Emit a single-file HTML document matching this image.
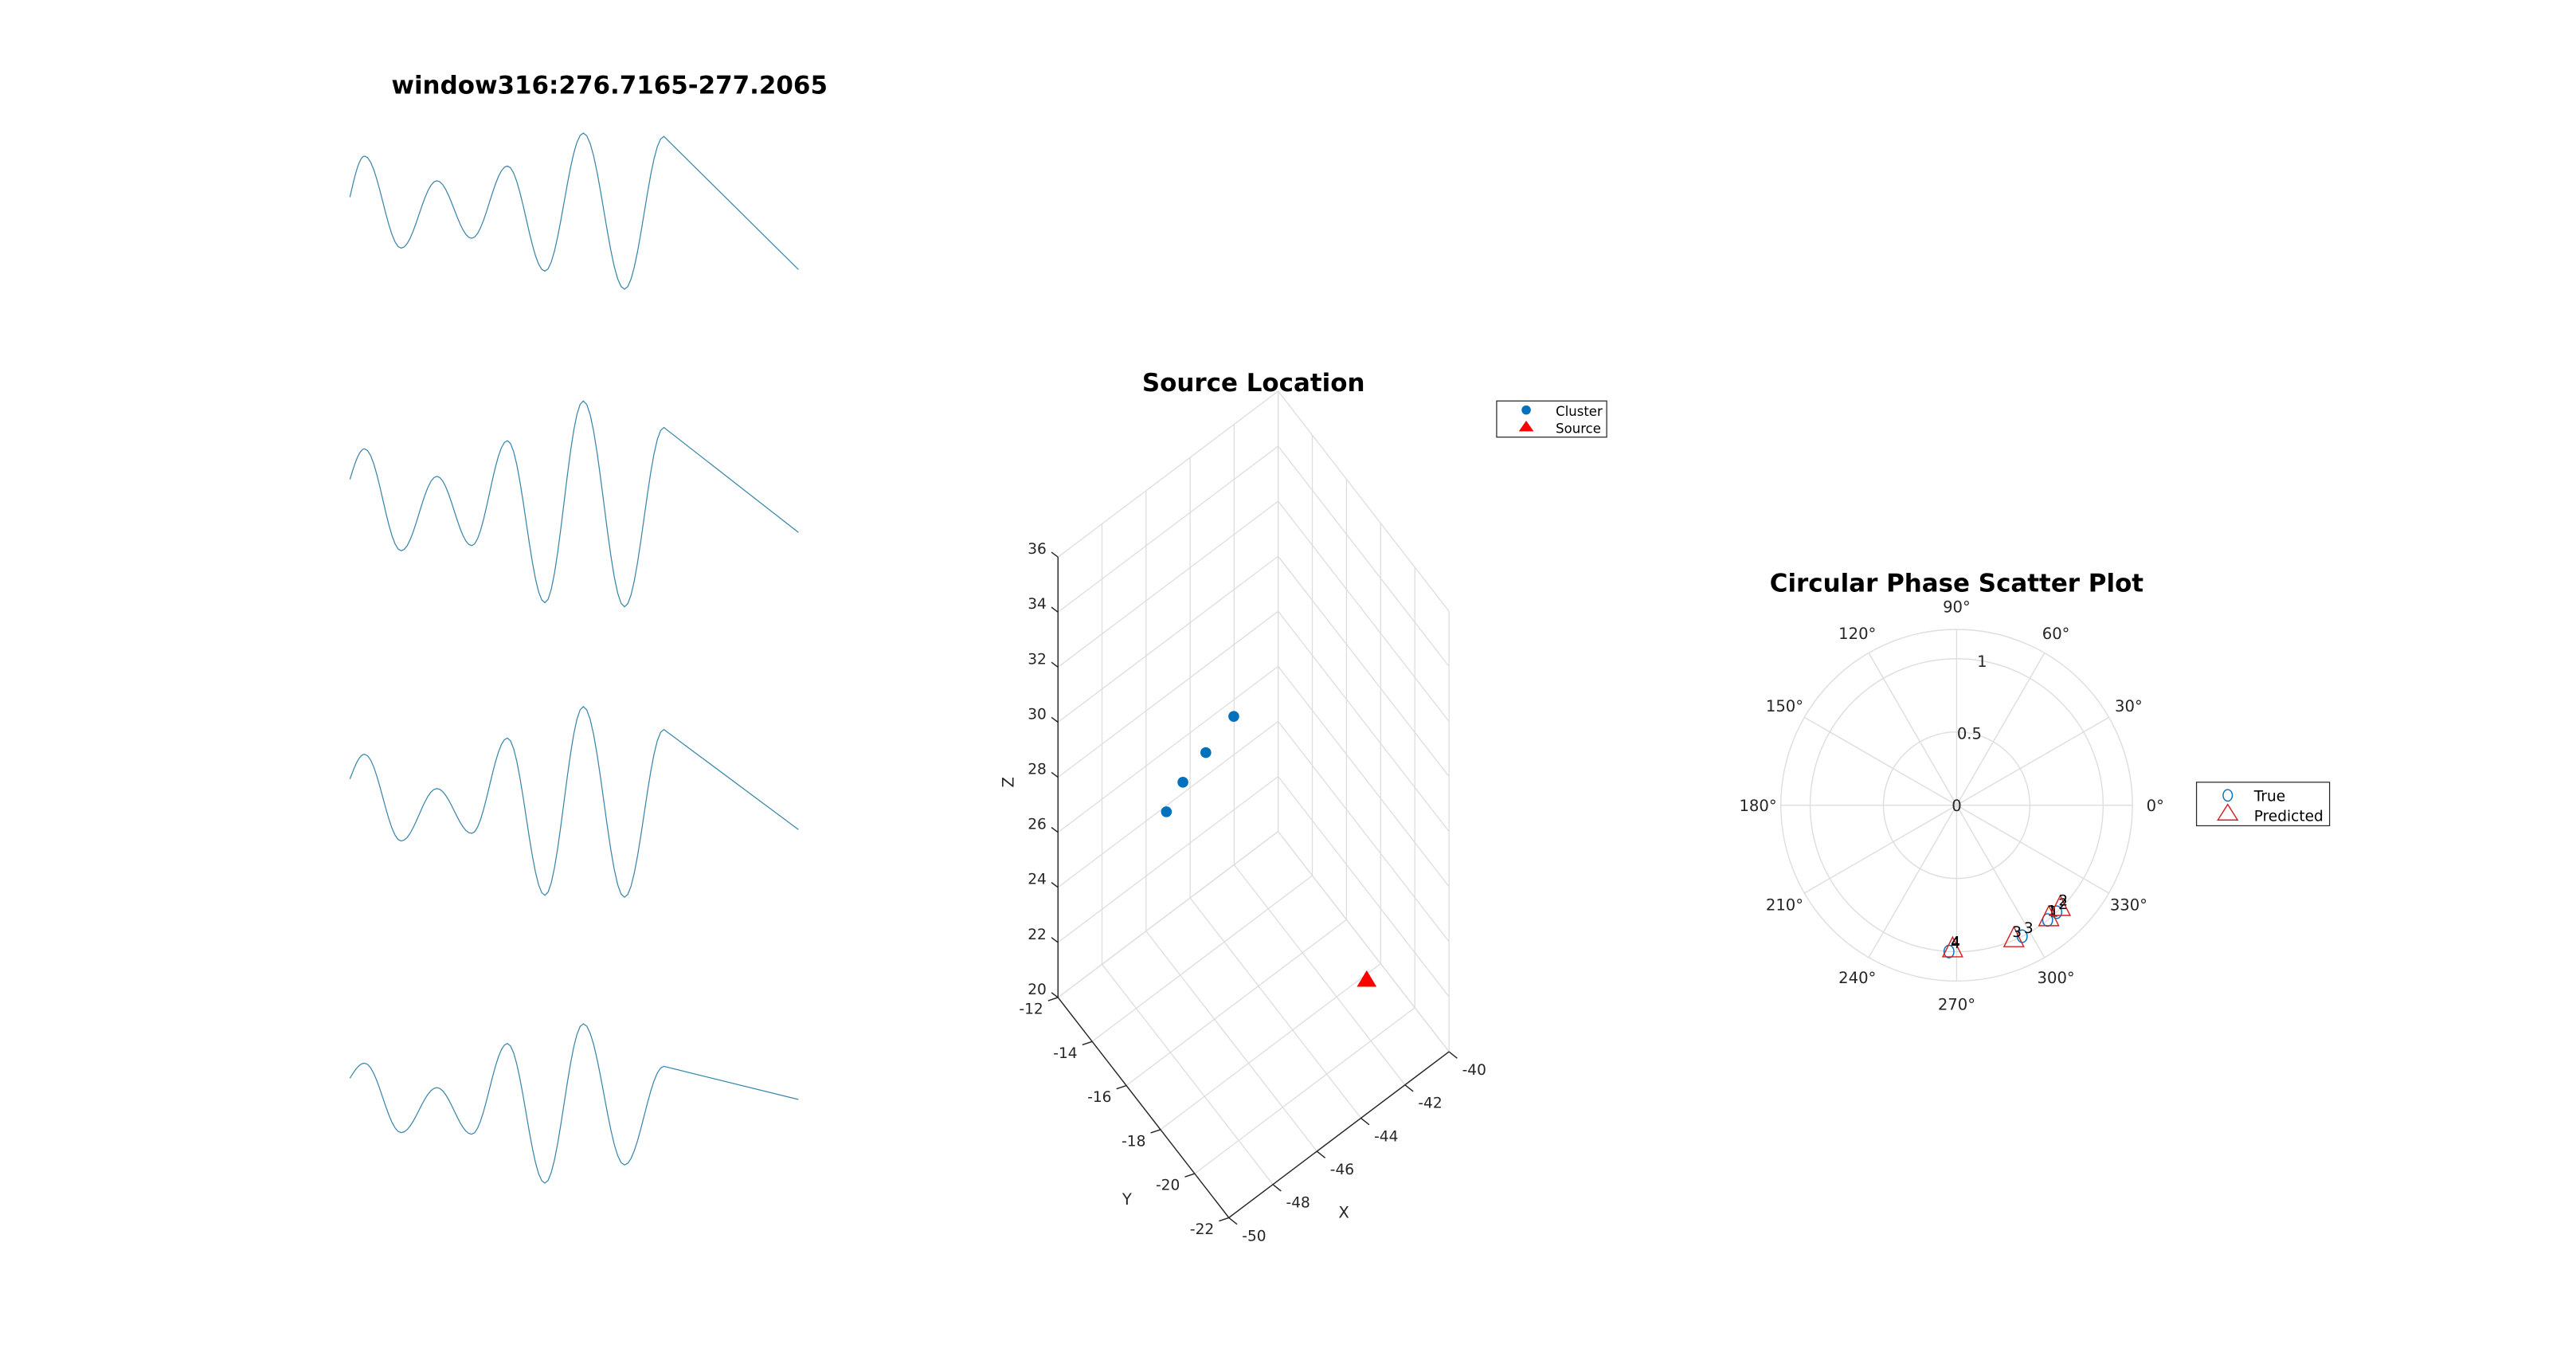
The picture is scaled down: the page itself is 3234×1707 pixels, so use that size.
<!DOCTYPE html>
<html><head><meta charset="utf-8"><style>
html,body{margin:0;padding:0;background:#fff;}
svg{display:block;font-family:"DejaVu Sans","Liberation Sans",sans-serif;}
</style></head><body>
<svg id="fig" width="3234" height="1707" viewBox="0 0 1568 827.6" preserveAspectRatio="none" xmlns="http://www.w3.org/2000/svg">
<rect width="1568" height="827.6" fill="#fff"/>
<text x="371" y="57" text-anchor="middle" font-size="15" font-weight="bold" fill="#000">window316:276.7165-277.2065</text>
<g id="waves"></g>
<g id="plot3d"></g>
<g id="polar"></g>
</svg>
<script>
// ---------- waveform data ----------
const waveTimes = [0, 0.016, 0.056, 0.095, 0.133, 0.172, 0.213, 0.255, 0.300, 0.343, 0.49];
const wave1 = [0.16, 0.66, -0.46, 0.36, -0.34, 0.54, -0.74, 0.94, -0.96, 0.90, -0.72];
const wave2 = [0.23, 0.53, -0.47, 0.26, -0.42, 0.61, -0.98, 1.00, -1.02, 0.74, -0.29];
const wave3 = [0.24, 0.50, -0.41, 0.14, -0.33, 0.67, -0.98, 1.00, -1.00, 0.76, -0.29];
const wave4 = [0.31, 0.50, -0.38, 0.19, -0.40, 0.75, -1.02, 1.00, -0.79, 0.46, 0.04];
// ---------- 3D data ----------
const clusterX = [-48.18, -47.43, -46.39, -45.12];
const clusterY = [-16, -16, -16, -16];
const clusterZ = [28.85, 29.47, 29.92, 30.47];
const sourceX = [-40.75];
const sourceY = [-18.15];
const sourceZ = [20];
const xTicks = [-50, -48, -46, -44, -42, -40];
const yTicks = [-12, -14, -16, -18, -20, -22];
const zTicks = [20, 22, 24, 26, 28, 30, 32, 34, 36];
// ---------- polar data ----------
const pointIds = ['1', '2', '3', '4'];
const trueAngle = [308.4, 313.1, 296.6, 267.0];
const trueR = [1.0, 1.0, 1.0, 1.0];
const predAngle = [309.0, 315.0, 293.0, 268.4];
const predR = [1.0, 1.0, 1.0, 0.99];
const angleTicks = [0, 30, 60, 90, 120, 150, 180, 210, 240, 270, 300, 330];
const rTicks = [0, 0.5, 1];

const NS = 'http://www.w3.org/2000/svg';
function mk(tag, attrs, parent, txt) {
  const e = document.createElementNS(NS, tag);
  for (const k in attrs) e.setAttribute(k, attrs[k]);
  if (txt !== undefined) e.textContent = txt;
  parent.appendChild(e);
  return e;
}

// ---------- waveforms ----------
const wg = document.getElementById('waves');
const waves = [wave1, wave2, wave3, wave4];
const waveMid = [128, 306, 488, 671];
const waveScale = [50, 62, 58, 48];
const tx = t => 213 + t / 0.49 * 273;
waves.forEach((w, i) => {
  const ty = v => waveMid[i] - v * waveScale[i];
  let d = 'M' + tx(waveTimes[0]) + ',' + ty(w[0]);
  for (let k = 0; k < w.length - 1; k++) {
    const t0 = waveTimes[k], t1 = waveTimes[k + 1], v0 = w[k], v1 = w[k + 1];
    if (k === w.length - 2) { d += ' L' + tx(t1) + ',' + ty(v1); continue; }
    const n = 12;
    for (let s = 1; s <= n; s++) {
      const f = s / n;
      const c = k === 0 ? Math.sin(f * Math.PI / 2) : (1 - Math.cos(f * Math.PI)) / 2;
      d += ' L' + tx(t0 + (t1 - t0) * f).toFixed(2) + ',' + ty(v0 + (v1 - v0) * c).toFixed(2);
    }
  }
  const p = mk('path', {d: d, fill: 'none', stroke: '#3a86a8', 'stroke-width': 0.6}, wg);
  
  
});

// ---------- 3D plot ----------
const g3 = document.getElementById('plot3d');
function P(x, y, z) {
  return [644 + (x + 50) * 13.4 - (y + 12) * 10.4, 607 - (x + 50) * 10.1 - (y + 12) * 13.4 - (z - 20) * 16.75];
}
function line(a, b, st, w, par) {
  return mk('line', {x1: a[0], y1: a[1], x2: b[0], y2: b[1], stroke: st, 'stroke-width': w}, par);
}
const grid = mk('g', {}, g3);


const gc = '#dcdcdc';
xTicks.forEach(x => line(P(x, -12, 20), P(x, -12, 36), gc, 0.6, grid));
zTicks.forEach(z => line(P(-50, -12, z), P(-40, -12, z), gc, 0.6, grid));
yTicks.forEach(y => line(P(-40, y, 20), P(-40, y, 36), gc, 0.6, grid));
zTicks.forEach(z => line(P(-40, -12, z), P(-40, -22, z), gc, 0.6, grid));
xTicks.forEach(x => line(P(x, -12, 20), P(x, -22, 20), gc, 0.6, grid));
yTicks.forEach(y => line(P(-50, y, 20), P(-40, y, 20), gc, 0.6, grid));
const ax = '#262626';
line(P(-50, -12, 20), P(-50, -12, 36), ax, 0.7, g3);
line(P(-50, -12, 20), P(-50, -22, 20), ax, 0.7, g3);
line(P(-50, -22, 20), P(-40, -22, 20), ax, 0.7, g3);
zTicks.forEach(z => {
  const p = P(-50, -12, z);
  line([p[0] - 4, p[1] - 3], p, ax, 0.7, g3);
  const t = mk('text', {x: p[0] - 7, y: p[1] - 2, 'text-anchor': 'end', 'font-size': 9, fill: '#262626'}, g3, String(z));
  
  
});
yTicks.forEach(y => {
  const p = P(-50, y, 20);
  line([p[0] - 6, p[1] + 2], p, ax, 0.7, g3);
  const t = mk('text', {x: p[0] - 9, y: p[1] + 10, 'text-anchor': 'end', 'font-size': 9, fill: '#262626'}, g3, String(y));
  
  
});
xTicks.forEach(x => {
  const p = P(x, -22, 20);
  line(p, [p[0] + 5, p[1] + 4], ax, 0.7, g3);
  const t = mk('text', {x: p[0] + 8, y: p[1] + 14, 'text-anchor': 'start', 'font-size': 9, fill: '#262626'}, g3, String(x));
  
  
});
mk('text', {x: 617, y: 476, 'font-size': 9.5, fill: '#262626', 'text-anchor': 'middle', transform: 'rotate(-90 617 476)'}, g3, 'Z');
mk('text', {x: 686, y: 733, 'font-size': 9.5, fill: '#262626', 'text-anchor': 'middle'}, g3, 'Y');
mk('text', {x: 818, y: 741, 'font-size': 9.5, fill: '#262626', 'text-anchor': 'middle'}, g3, 'X');
mk('text', {x: 763, y: 238, 'font-size': 15, 'font-weight': 'bold', 'text-anchor': 'middle', fill: '#000'}, g3, 'Source Location');
clusterX.forEach((x, i) => {
  const p = P(x, clusterY[i], clusterZ[i]);
  const c = mk('circle', {cx: p[0], cy: p[1], r: 3.3, fill: '#0072BD'}, g3);
  
  
});
sourceX.forEach((x, i) => {
  const p = P(x, sourceY[i], sourceZ[i]);
  const t = mk('polygon', {points: `${p[0]},${p[1] - 5.5} ${p[0] - 6},${p[1] + 4.5} ${p[0] + 6},${p[1] + 4.5}`, fill: '#ff0000'}, g3);
  
  
});
const lg = mk('g', {}, g3);


mk('rect', {x: 911, y: 244, width: 67, height: 22, fill: '#fff', stroke: '#262626', 'stroke-width': 0.6}, lg);
mk('circle', {cx: 929, cy: 249.5, r: 2.8, fill: '#0072BD'}, lg);
mk('text', {x: 947, y: 253, 'font-size': 8, fill: '#000'}, lg, 'Cluster');
mk('polygon', {points: '929,256 924.5,262.5 933.5,262.5', fill: '#ff0000'}, lg);
mk('text', {x: 947, y: 263.5, 'font-size': 8, fill: '#000'}, lg, 'Source');

// ---------- polar plot ----------
const gp = document.getElementById('polar');
const cx = 1191, cy = 490, R = 107, rMax = 1.2;
const pr = r => r / rMax * R;
const pol = (a, r) => [cx + pr(r) * Math.cos(a * Math.PI / 180), cy - pr(r) * Math.sin(a * Math.PI / 180)];
[0.5, 1, 1.2].forEach(r => mk('circle', {cx: cx, cy: cy, r: pr(r), fill: 'none', stroke: '#dedede', 'stroke-width': 0.7}, gp));
angleTicks.forEach(a => {
  const e = pol(a, rMax);
  line([cx, cy], e, '#dedede', 0.7, gp);
  const l = pol(a, rMax * 1.13);
  const t = mk('text', {x: l[0], y: l[1] + 3.5, 'font-size': 9.5, 'text-anchor': 'middle', fill: '#262626'}, gp, a + '°');
  
  
});
rTicks.forEach(r => {
  const p = pol(80, r);
  const t = mk('text', {x: r === 0 ? cx : p[0], y: p[1] + 3.5, 'font-size': 9.5, 'text-anchor': 'middle', fill: '#262626'}, gp, String(r));
  
  
});
mk('text', {x: 1191, y: 360, 'font-size': 15, 'font-weight': 'bold', 'text-anchor': 'middle', fill: '#000'}, gp, 'Circular Phase Scatter Plot');
trueAngle.forEach((a, i) => {
  const p = pol(a, trueR[i]);
  const c = mk('ellipse', {cx: p[0], cy: p[1], rx: 3, ry: 3.8, fill: 'none', stroke: '#0072BD', 'stroke-width': 0.7}, gp);
  
  
  mk('text', {x: p[0] + 1, y: p[1] - 2, 'font-size': 9, fill: '#000'}, gp, pointIds[i]);
});
predAngle.forEach((a, i) => {
  const p = pol(a, predR[i]);
  const t = mk('polygon', {points: `${p[0]},${p[1] - 8} ${p[0] - 6},${p[1] + 4} ${p[0] + 6},${p[1] + 4}`, fill: 'none', stroke: '#d62020', 'stroke-width': 0.7}, gp);
  
  
  mk('text', {x: p[0] - 1, y: p[1] - 2, 'font-size': 9, fill: '#000'}, gp, pointIds[i]);
});
const pl = mk('g', {}, gp);


mk('rect', {x: 1337, y: 476, width: 81, height: 26.5, fill: '#fff', stroke: '#262626', 'stroke-width': 0.6}, pl);
mk('ellipse', {cx: 1356, cy: 484, rx: 2.8, ry: 3.5, fill: 'none', stroke: '#0072BD', 'stroke-width': 0.7}, pl);
mk('text', {x: 1372, y: 487.5, 'font-size': 9, fill: '#000'}, pl, 'True');
mk('polygon', {points: '1356,489.5 1350,499 1362,499', fill: 'none', stroke: '#d62020', 'stroke-width': 0.7}, pl);
mk('text', {x: 1372, y: 499.5, 'font-size': 9, fill: '#000'}, pl, 'Predicted');
</script>
</body></html>
